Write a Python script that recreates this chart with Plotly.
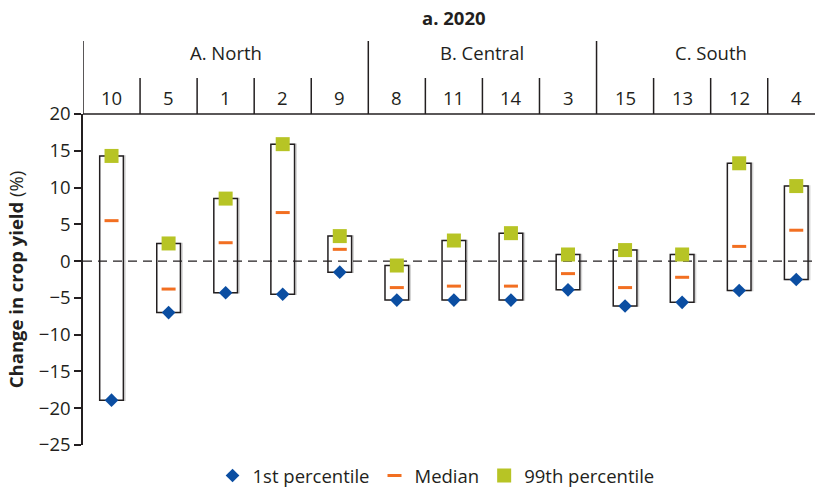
import plotly.graph_objects as go

# Regions and their sub-regions, in display order
regions = ["A. North", "B. Central", "C. South"]
region_sizes = [5, 4, 4]
sites = ["10", "5", "1", "2", "9", "8", "11", "14", "3", "15", "13", "12", "4"]

# Change in crop yield (%), 2020
p01 = [-18.9, -7.0, -4.3, -4.5, -1.5, -5.3, -5.3, -5.3, -3.9, -6.1, -5.6, -4.0, -2.5]
median = [5.5, -3.8, 2.5, 6.6, 1.6, -3.6, -3.4, -3.4, -1.7, -3.6, -2.2, 2.0, 4.2]
p99 = [14.3, 2.4, 8.5, 15.9, 3.4, -0.6, 2.8, 3.8, 0.9, 1.5, 0.9, 13.3, 10.2]

y_ticks = [-25, -20, -15, -10, -5, 0, 5, 10, 15, 20]

INK = "#231F20"
BLUE = "#0B4EA2"
ORANGE = "#F26F21"
LIME = "#B7C425"
FONT = "Open Sans"
FS = 18.5

W, H = 815, 490
ML, MR, MT, MB = 83, 0, 114, 45
cat_px = 57.06                      # width of one site column in pixels
plot_w = W - ML - MR
plot_h = H - MT - MB
x = list(range(len(sites)))
x_hi = -0.5 + plot_w / cat_px       # last column runs past the right edge
bar_w = 0.415

def py(px_from_top):
    """paper y for a pixel row measured from the top of the figure"""
    return (H - MB - px_from_top) / plot_h

fig = go.Figure()

span = [hi - lo for lo, hi in zip(p01, p99)]

# faint drop shadow behind each range box
fig.add_trace(go.Bar(
    x=x, y=span, base=p01, width=bar_w, offset=-bar_w / 2 + 0.028,
    marker=dict(color="rgba(0,0,0,0)", line=dict(color="#d4d4d4", width=1.5)),
    showlegend=False, hoverinfo="skip",
))
# range box from 1st to 99th percentile
fig.add_trace(go.Bar(
    x=x, y=span, base=p01, width=bar_w, offset=-bar_w / 2,
    marker=dict(color="white", line=dict(color=INK, width=1.5)),
    showlegend=False, hoverinfo="skip",
))
# dashed zero reference
fig.add_trace(go.Scatter(
    x=[-0.5, len(sites) - 0.5], y=[0, 0], mode="lines",
    line=dict(color=INK, width=1.4, dash="9px,6px"),
    showlegend=False, hoverinfo="skip",
))
fig.add_trace(go.Scatter(
    x=x, y=p01, mode="markers", name="1st percentile",
    marker=dict(symbol="diamond", size=10.5, color=BLUE, line=dict(width=0)),
))
fig.add_trace(go.Scatter(
    x=x, y=median, mode="markers", name="Median",
    marker=dict(symbol="line-ew", size=10, color=ORANGE,
                line=dict(color=ORANGE, width=3)),
))
fig.add_trace(go.Scatter(
    x=x, y=p99, mode="markers", name="99th percentile",
    marker=dict(symbol="square", size=14, color=LIME, line=dict(width=0)),
))

shapes = []
annotations = []

# top border of the plot area
shapes.append(dict(type="line", xref="paper", yref="paper", x0=0, x1=1, y0=1, y1=1,
                   line=dict(color=INK, width=1.5)))

# column separators and site labels
region_edges = [-0.5]
for n in region_sizes:
    region_edges.append(region_edges[-1] + n)
for i in range(len(sites)):
    edge = i - 0.5
    tall = edge in region_edges
    shapes.append(dict(type="line", xref="x", yref="paper", x0=edge, x1=edge,
                       y0=1, y1=py(41) if tall else py(78),
                       line=dict(color=INK, width=1.5)))
    annotations.append(dict(x=i, y=py(98), xref="x", yref="paper", text=sites[i],
                            showarrow=False, yanchor="middle",
                            font=dict(family=FONT, size=FS, color=INK)))

# region labels
for k, name in enumerate(regions):
    mid = (region_edges[k] + region_edges[k + 1]) / 2
    annotations.append(dict(x=mid, y=py(52), xref="x", yref="paper", text=name,
                            showarrow=False, yanchor="middle",
                            font=dict(family=FONT, size=FS, color=INK)))

# panel title
annotations.append(dict(x=(len(sites) - 1) / 2, y=py(18), xref="x", yref="paper",
                        text="<b>a. 2020</b>", showarrow=False, yanchor="middle",
                        font=dict(family=FONT, size=FS, color=INK)))

fig.update_layout(
    width=W, height=H,
    margin=dict(l=ML, r=MR, t=MT, b=MB, autoexpand=False),
    paper_bgcolor="white", plot_bgcolor="white",
    barmode="overlay",
    font=dict(family=FONT, size=FS, color=INK),
    shapes=shapes, annotations=annotations,
    showlegend=True,
    legend=dict(orientation="h", xref="container", yref="container",
                x=0.535, xanchor="center", y=(H - 476) / H, yanchor="middle",
                font=dict(family=FONT, size=FS, color=INK),
                itemwidth=30, tracegroupgap=0, bgcolor="rgba(0,0,0,0)"),
    xaxis=dict(range=[-0.5, x_hi], showticklabels=False, showgrid=False,
               zeroline=False, showline=False, ticks=""),
    yaxis=dict(range=[-25, 20], tickvals=y_ticks, ticks="outside", ticklen=7,
               tickwidth=1.5, tickcolor=INK, showline=True, linecolor=INK,
               linewidth=1.5, showgrid=False, zeroline=False,
               tickfont=dict(family=FONT, size=FS, color=INK),
               title=dict(text="<b>Change in crop yield</b> (%)", standoff=10,
                          font=dict(family=FONT, size=FS, color=INK))),
)

fig.write_html("out.html")
